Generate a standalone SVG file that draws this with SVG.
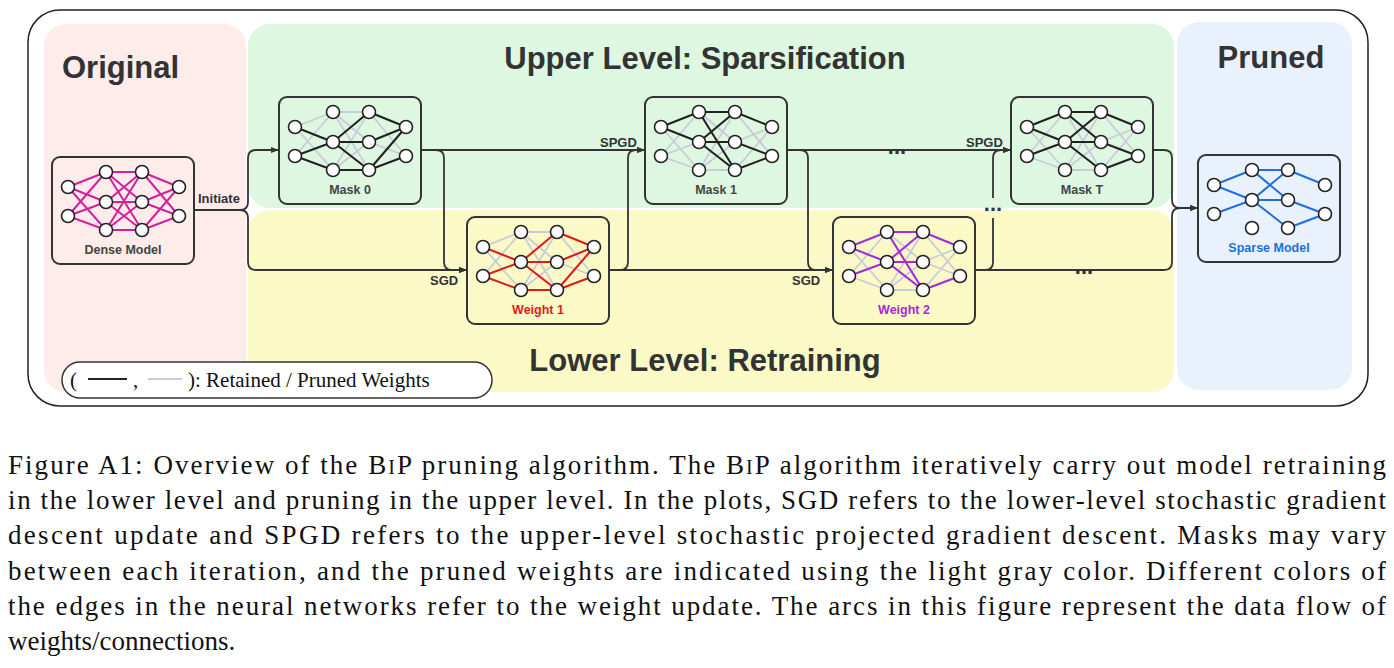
<svg xmlns="http://www.w3.org/2000/svg" width="1394" height="668" viewBox="0 0 1394 668">
<style>
.box{fill:none;stroke:#333;stroke-width:2}
.gray{fill:none;stroke:#c8ccd8;stroke-width:1.8}
.e{fill:none;stroke-width:2}
.nd{fill:#fff;stroke:#222;stroke-width:1.6}
.lbl{font-family:"Liberation Sans",Arial,sans-serif;font-weight:bold;font-size:12.5px;text-anchor:middle}
.cl{font-family:"Liberation Sans",Arial,sans-serif;font-weight:bold;font-size:13px;fill:#333}
.dots{font-family:"Liberation Sans",Arial,sans-serif;font-weight:bold;font-size:22px;fill:#333;text-anchor:middle}
.title{font-family:"Liberation Sans",Arial,sans-serif;font-weight:bold;font-size:31px;fill:#333}
.conn{fill:none;stroke:#333;stroke-width:1.8}
.cap{font-family:"Liberation Serif","Times New Roman",serif;font-size:27px;fill:#111}
</style>
<defs>
<marker id="ar" markerWidth="8" markerHeight="8" refX="7" refY="4" orient="auto" markerUnits="userSpaceOnUse"><path d="M0 1L8 4L0 7z" fill="#333"/></marker>
<path id="full" d="M16 30L54 15M16 30L54 45M16 30L54 73M16 59L54 15M16 59L54 45M16 59L54 73M54 15L90 15M54 15L90 45M54 15L90 73M54 45L90 15M54 45L90 45M54 45L90 73M54 73L90 15M54 73L90 45M54 73L90 73M90 15L127 30M90 15L127 59M90 45L127 30M90 45L127 59M90 73L127 30M90 73L127 59"/>
<g id="nodes" class="nd"><circle cx="16" cy="30" r="6.5"/><circle cx="16" cy="59" r="6.5"/><circle cx="54" cy="15" r="6.5"/><circle cx="54" cy="45" r="6.5"/><circle cx="54" cy="73" r="6.5"/><circle cx="90" cy="15" r="6.5"/><circle cx="90" cy="45" r="6.5"/><circle cx="90" cy="73" r="6.5"/><circle cx="127" cy="30" r="6.5"/><circle cx="127" cy="59" r="6.5"/></g>
</defs>
<rect x="28" y="10" width="1340" height="396" rx="32" fill="#fff" stroke="#222" stroke-width="1.5"/>
<rect x="44" y="24" width="202" height="368" rx="22" fill="#fdecea"/>
<rect x="248" y="24" width="926" height="184" rx="22" fill="#ddf7e0"/>
<rect x="248" y="210" width="926" height="182" rx="22" fill="#fbfac7"/>
<rect x="1177" y="22" width="175" height="368" rx="22" fill="#e9f1fc"/>
<text class="title" x="62" y="78">Original</text>
<text class="title" x="705" y="69" text-anchor="middle">Upper Level: Sparsification</text>
<text class="title" x="705" y="371" text-anchor="middle">Lower Level: Retraining</text>
<text class="title" x="1271" y="68" text-anchor="middle">Pruned</text>
<g id="connectors" marker-end="url(#ar)">
<path class="conn" d="M194 210H240Q248 210 248 202V158Q248 150 256 150H278"/>
<path class="conn" d="M194 210H240Q248 210 248 218V262Q248 270 256 270H466"/>
<path class="conn" d="M421 150H644"/>
<path class="conn" d="M421 150H436Q444 150 444 158V262Q444 270 452 270H466"/>
<path class="conn" d="M609 270H620Q628 270 628 262V158Q628 150 636 150H644"/>
<path class="conn" d="M609 270H832"/>
<path class="conn" d="M787 150H1010" stroke-width="2.4"/>
<path class="conn" d="M787 150H800Q808 150 808 158V262Q808 270 816 270H832"/>
<path class="conn" d="M975 270H985Q993 270 993 262V218M993 198V158Q993 150 1001 150H1010" stroke-width="2.4"/>
<path class="conn" d="M975 270H1164Q1172 270 1172 262V216Q1172 208 1180 208H1197" stroke-width="2.4"/>
<path class="conn" d="M1153 150H1164Q1172 150 1172 158V200Q1172 208 1180 208H1197" stroke-width="2.4"/>
</g>
<text class="dots" x="897" y="154">...</text>
<text class="dots" x="993" y="211">...</text>
<text class="dots" x="1084" y="274">...</text>
<text class="cl" x="198" y="203">Initiate</text>
<text class="cl" x="430" y="285">SGD</text>
<text class="cl" x="600" y="147">SPGD</text>
<text class="cl" x="792" y="285">SGD</text>
<text class="cl" x="966" y="147">SPGD</text>

<g id="dense" transform="translate(52,157)">
<rect class="box" width="142" height="107" rx="8"/>
<use href="#full" class="e" stroke="#d4209f"/>
<use href="#nodes"/>
<text class="lbl" x="71" y="97" fill="#444">Dense Model</text>
</g>
<g id="mask0" transform="translate(279,97)">
<rect class="box" width="142" height="107" rx="8"/>
<use href="#full" class="gray"/>
<path class="e" stroke="#222" d="M16 30L54 45M16 59L54 45M16 59L54 73M54 45L90 15M54 45L90 45M54 45L90 73M54 73L90 73M90 15L127 30M90 45L127 30M90 73L127 30M90 73L127 59"/>
<use href="#nodes"/>
<text class="lbl" x="71" y="97" fill="#444">Mask 0</text>
</g>
<g id="weight1" transform="translate(467,217)">
<rect class="box" width="142" height="107" rx="8"/>
<use href="#full" class="gray"/>
<path class="e" stroke="#e41a1a" d="M16 30L54 45M16 59L54 45M16 59L54 73M54 45L90 15M54 45L90 45M54 45L90 73M54 73L90 73M90 15L127 30M90 45L127 30M90 73L127 30M90 73L127 59"/>
<use href="#nodes"/>
<text class="lbl" x="71" y="97" fill="#e41a1a">Weight 1</text>
</g>
<g id="mask1" transform="translate(645,97)">
<rect class="box" width="142" height="107" rx="8"/>
<use href="#full" class="gray"/>
<path class="e" stroke="#222" d="M16 30L54 15M16 30L54 45M54 15L90 15M54 15L90 73M54 45L90 15M54 45L90 45M54 45L90 73M90 15L127 30M90 45L127 59M90 73L127 59"/>
<use href="#nodes"/>
<text class="lbl" x="71" y="97" fill="#444">Mask 1</text>
</g>
<g id="weight2" transform="translate(833,217)">
<rect class="box" width="142" height="107" rx="8"/>
<use href="#full" class="gray"/>
<path class="e" stroke="#a52ae0" d="M16 30L54 15M16 30L54 45M16 59L54 45M54 15L90 15M54 15L90 73M54 45L90 15M54 45L90 45M54 45L90 73M90 15L127 30M90 73L127 59"/>
<use href="#nodes"/>
<text class="lbl" x="71" y="97" fill="#a52ae0">Weight 2</text>
</g>
<g id="maskT" transform="translate(1011,97)">
<rect class="box" width="142" height="107" rx="8"/>
<use href="#full" class="gray"/>
<path class="e" stroke="#222" d="M16 30L54 15M16 30L54 45M16 59L54 45M54 15L90 15M54 15L90 45M54 45L90 15M54 45L90 45M54 45L90 73M90 15L127 30M90 45L127 59M90 73L127 59"/>
<use href="#nodes"/>
<text class="lbl" x="71" y="97" fill="#444">Mask T</text>
</g>
<g id="sparse" transform="translate(1198,155)">
<rect class="box" width="142" height="107" rx="8"/>
<path class="e" stroke="#1f6fdc" d="M16 30L54 15M16 59L54 45M16 30L54 45M54 15L90 15M54 15L90 45M54 45L90 15M54 45L90 45M54 45L90 73M90 15L127 30M90 45L127 59M90 73L127 59"/>
<use href="#nodes"/>
<text class="lbl" x="71" y="97" fill="#1f6fdc">Sparse Model</text>
</g>
<g id="legend">
<rect x="62" y="362" width="430" height="36" rx="18" fill="#fff" stroke="#333" stroke-width="1.5"/>
<line x1="88" y1="379" x2="127" y2="379" stroke="#222" stroke-width="1.8"/>
<line x1="148" y1="379" x2="182" y2="379" stroke="#c8ccd8" stroke-width="1.8"/>
<text x="70" y="387" font-family="Liberation Serif,serif" font-size="21" fill="#111">(</text>
<text x="133" y="387" font-family="Liberation Serif,serif" font-size="21" fill="#111">,</text>
<text x="188" y="387" font-family="Liberation Serif,serif" font-size="21" fill="#111">): Retained / Pruned Weights</text>
</g>
<g id="caption" class="cap">
<text x="8" y="474" textLength="1378" lengthAdjust="spacing">Figure A1:  Overview of the B<tspan font-size="20">I</tspan>P pruning algorithm. The B<tspan font-size="20">I</tspan>P algorithm iteratively carry out model retraining</text>
<text x="8" y="509" textLength="1378" lengthAdjust="spacing">in the lower level and pruning in the upper level. In the plots, SGD refers to the lower-level stochastic gradient</text>
<text x="8" y="544" textLength="1378" lengthAdjust="spacing">descent update and SPGD refers to the upper-level stochastic projected gradient descent. Masks may vary</text>
<text x="8" y="580" textLength="1378" lengthAdjust="spacing">between each iteration, and the pruned weights are indicated using the light gray color. Different colors of</text>
<text x="8" y="615" textLength="1378" lengthAdjust="spacing">the edges in the neural networks refer to the weight update. The arcs in this figure represent the data flow of</text>
<text x="8" y="650">weights/connections.</text>
</g>
</svg>
